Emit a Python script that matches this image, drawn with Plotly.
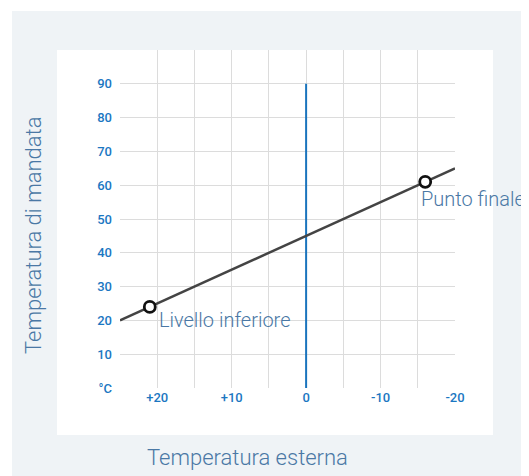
import plotly.graph_objects as go

# ---- data ----
line_x = [25, -20]
line_y = [20, 65]
zero_x = [0, 0]
zero_y = [0, 90]
point_x = [21, -16]
point_y = [24, 61]
point_labels = ["Livello inferiore", "Punto finale"]
x_tickvals = [25, 20, 15, 10, 5, 0, -5, -10, -15, -20]
x_ticktext = ["", "+20", "", "+10", "", "0", "", "-10", "", "-20"]
y_tickvals = [0, 10, 20, 30, 40, 50, 60, 70, 80, 90, 100]
y_ticktext = ["°C", "10", "20", "30", "40", "50", "60", "70", "80", "90", ""]
x_title = "Temperatura esterna"
y_title = "Temperatura di mandata"

OFF = 8  # page body margin
W, H = 529 - OFF, 476 - OFF
ML, MR, MT, MB = 120 - OFF, 74, 50 - OFF, 88
PW, PH = W - ML - MR, H - MT - MB


def px(x):
    return (x - OFF - ML) / PW


def py(y):
    return (H - MB - (y - OFF)) / PH


TITLE_COLOR = "#4a78a5"
TICK_COLOR = "#1b77c2"

fig = go.Figure()
fig.add_trace(go.Scatter(x=zero_x, y=zero_y, mode="lines",
                         line=dict(color="#1a74bd", width=2), hoverinfo="skip"))
fig.add_trace(go.Scatter(x=line_x, y=line_y, mode="lines",
                         line=dict(color="#444444", width=2.5), hoverinfo="skip"))
fig.add_trace(go.Scatter(x=point_x, y=point_y, mode="markers",
                         marker=dict(symbol="circle", size=11, color="white",
                                     line=dict(color="#111111", width=2.8)),
                         hoverinfo="skip"))

shifts = [(7, -13), (-6, -17)]
for (xv, yv, lab), (dx, dy) in zip(zip(point_x, point_y, point_labels), shifts):
    fig.add_annotation(x=xv, y=yv, text=lab, showarrow=False, xanchor="left",
                       yanchor="middle", xshift=dx, yshift=dy,
                       font=dict(family="Roboto", size=20, color=TITLE_COLOR, weight=300))

fig.add_annotation(xref="paper", yref="paper", x=px(247), y=py(457), text=x_title,
                   showarrow=False, xanchor="center", yanchor="middle",
                   font=dict(family="Roboto", size=22, color=TITLE_COLOR, weight=300))
fig.add_annotation(xref="paper", yref="paper", x=px(34), y=py(236), text=y_title,
                   showarrow=False, xanchor="center", yanchor="middle", textangle=-90,
                   font=dict(family="Roboto", size=22, color=TITLE_COLOR, weight=300))

fig.add_shape(type="rect", xref="paper", yref="paper", layer="below",
              x0=px(12), x1=px(540), y0=py(490), y1=py(11),
              fillcolor="#eff3f6", line=dict(width=0))
fig.add_shape(type="rect", xref="paper", yref="paper", layer="below",
              x0=px(57), x1=px(493), y0=py(435), y1=py(50),
              fillcolor="white", line=dict(width=0))

fig.update_layout(
    width=W, height=H,
    margin=dict(l=ML, r=MR, t=MT, b=MB),
    paper_bgcolor="white", plot_bgcolor="rgba(0,0,0,0)",
    showlegend=False,
    xaxis=dict(range=[25, -20], tickvals=x_tickvals, ticktext=x_ticktext,
               showgrid=True, gridcolor="#dcdcdc", gridwidth=1, zeroline=False,
               showline=False, ticks="", fixedrange=True,
               tickfont=dict(family="Roboto", size=13, color=TICK_COLOR, weight=500)),
    yaxis=dict(range=[0, 100], tickvals=y_tickvals, ticktext=y_ticktext,
               showgrid=True, gridcolor="#dcdcdc", gridwidth=1, zeroline=False,
               showline=False, ticks="", ticklabelstandoff=7, fixedrange=True,
               tickfont=dict(family="Roboto", size=13, color=TICK_COLOR, weight=500)),
)

fig.write_html("out.html")
